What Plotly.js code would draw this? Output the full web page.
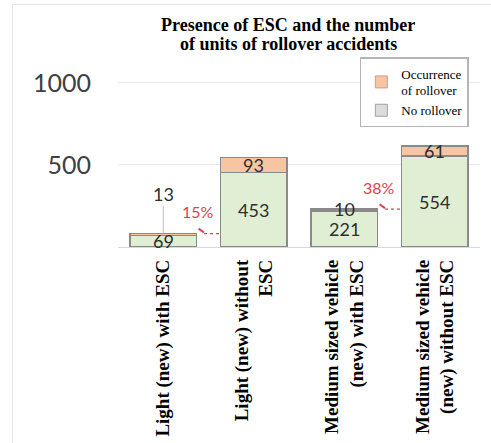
<!DOCTYPE html>
<html>
<head>
<meta charset="utf-8">
<script src="https://cdn.plot.ly/plotly-3.0.1.min.js"></script>
<style>
  html, body { margin: 0; padding: 0; background: #fff; }
  #frame { position: absolute; left: 12px; top: 4px; width: 479px; height: 439px;
           border-left: 1px solid #e6e6e6; border-top: 1px solid #e6e6e6; pointer-events: none; }
  #chart { position: absolute; left: 0; top: 0; width: 491px; height: 443px; }
</style>
</head>
<body>
<div id="chart"></div>
<div id="frame"></div>
<script>
// ---- data ----
const categories = [
  'Light (new) with ESC',
  'Light (new) without<br>ESC',
  'Medium sized vehicle<br>(new) with ESC',
  'Medium sized vehicle<br>(new) without ESC'
];
const noRollover = [69, 453, 221, 554];
const rollover = [13, 93, 10, 61];
const pctLabels = ['15%', '38%'];      // reduction labels between bar pairs
const pctFrom = [0, 2];                // left bar index of each pair
const yTicks = [500, 1000];
const yTickText = ['500', '1000'];
const titleLines = ['Presence of ESC and the number', 'of units of rollover accidents'];

const green = '#e0eed4';
const orange = '#f7c5a2';
const edge = '#8a8a8a';
const numFont = { family: 'Lato, "Open Sans", sans-serif', size: 18, color: '#2e2e2e' };
const red = '#d9434d';
const serif = '"Liberation Serif", "Times New Roman", serif';

const traces = [
  { type: 'bar', x: categories, y: noRollover, name: 'No rollover', showlegend: false,
    marker: { color: green, line: { color: edge, width: 1.5 } }, width: 0.73, hoverinfo: 'skip' },
  { type: 'bar', x: categories, y: rollover, name: 'Occurrence of rollover', showlegend: false,
    marker: { color: orange, line: { color: edge, width: 1.5 } }, width: 0.73, hoverinfo: 'skip' },
  // legend-only entries (reference legend draws "No rollover" in grey)
  { type: 'bar', x: [null], y: [null], name: 'Occurrence<br>of rollover', showlegend: true,
    marker: { color: orange, line: { color: '#c8a08a', width: 1 } } },
  { type: 'bar', x: [null], y: [null], name: 'No rollover', showlegend: true,
    marker: { color: '#dcdcdc', line: { color: '#a0a0a0', width: 1 } } }
];

const annotations = [];
const shapes = [];
// title lines as annotations (tight line spacing like the reference)
titleLines.forEach((t, j) => {
  annotations.push({ text: '<b>' + t + '</b>', xref: 'paper', yref: 'paper',
    x: (288 - 118) / 362, y: (247 - 25 - 19.5 * j) / 187,
    xanchor: 'center', yanchor: 'middle', showarrow: false,
    font: { family: serif, size: 18, color: '#000' } });
});

for (let i = 0; i < categories.length; i++) {
  const small = rollover[i] < 30;
  annotations.push({ x: categories[i], y: noRollover[i] / 2, text: String(noRollover[i]),
    showarrow: false, font: numFont, yanchor: 'middle' });
  if (!small) {
    annotations.push({ x: categories[i], y: noRollover[i] + rollover[i] / 2, text: String(rollover[i]),
      showarrow: false, font: numFont, yanchor: 'middle' });
  }
}
// bar 0: small label above with leader line
annotations.push({ x: categories[0], y: noRollover[0] + rollover[0], text: String(rollover[0]),
  showarrow: true, arrowhead: 0, arrowwidth: 1, arrowcolor: '#bdbdbd', ax: 0, ay: -40,
  font: numFont, standoff: 0 });
// bar 2: label sitting on top of bar
annotations.push({ x: categories[2], y: noRollover[2] + rollover[2], text: String(rollover[2]),
  showarrow: false, font: numFont, yanchor: 'middle' });

// percentage connectors
for (let k = 0; k < pctLabels.length; k++) {
  const i = pctFrom[k];
  const total = noRollover[i] + rollover[i];
  annotations.push({ x: i + 0.38, y: total, text: pctLabels[k], showarrow: false,
    font: { family: 'Lato, "Open Sans", sans-serif', size: 16, color: red }, yshift: 22 });
  shapes.push({ type: 'line', xref: 'x', yref: 'y', x0: i + 0.45, x1: i + 0.635, y0: total, y1: total,
    line: { color: red, width: 1.2, dash: 'dot' } });
  shapes.push({ type: 'line', xref: 'x', yref: 'y', x0: i + 0.39, x1: i + 0.45, y0: total + 30, y1: total + 6,
    line: { color: red, width: 2 } });
}

const layout = {
  width: 491, height: 443,
  margin: { l: 118, r: 11, t: 60, b: 196 },
  paper_bgcolor: 'rgba(0,0,0,0)', plot_bgcolor: 'rgba(0,0,0,0)',
  barmode: 'stack',
  xaxis: { type: 'category', range: [-0.5, 3.5], tickangle: -90, showgrid: false, showline: false,
    zeroline: false, ticks: '', ticklabelstandoff: 8,
    tickfont: { family: serif, size: 19, color: '#000', weight: 'bold' } },
  yaxis: { range: [0, 1140], tickvals: yTicks, ticktext: yTickText, showgrid: true,
    gridcolor: '#e8e8e8', gridwidth: 1, zeroline: true, zerolinecolor: '#d9d9d9', zerolinewidth: 1,
    showline: false, ticks: '', ticklabelstandoff: 26,
    tickfont: { family: 'Lato, "Open Sans", sans-serif', size: 25, color: '#404040' } },
  legend: { x: 0.668, y: 1.016, xanchor: 'left', yanchor: 'top', bgcolor: '#ffffff',
    bordercolor: '#b5b5b5', borderwidth: 1.5, traceorder: 'normal', itemwidth: 30,
    tracegroupgap: 0, font: { family: serif, size: 13, color: '#000' } },
  annotations: annotations,
  shapes: shapes,
  showlegend: true
};

Plotly.newPlot('chart', traces, layout, { displayModeBar: false, staticPlot: true });
</script>
</body>
</html>
